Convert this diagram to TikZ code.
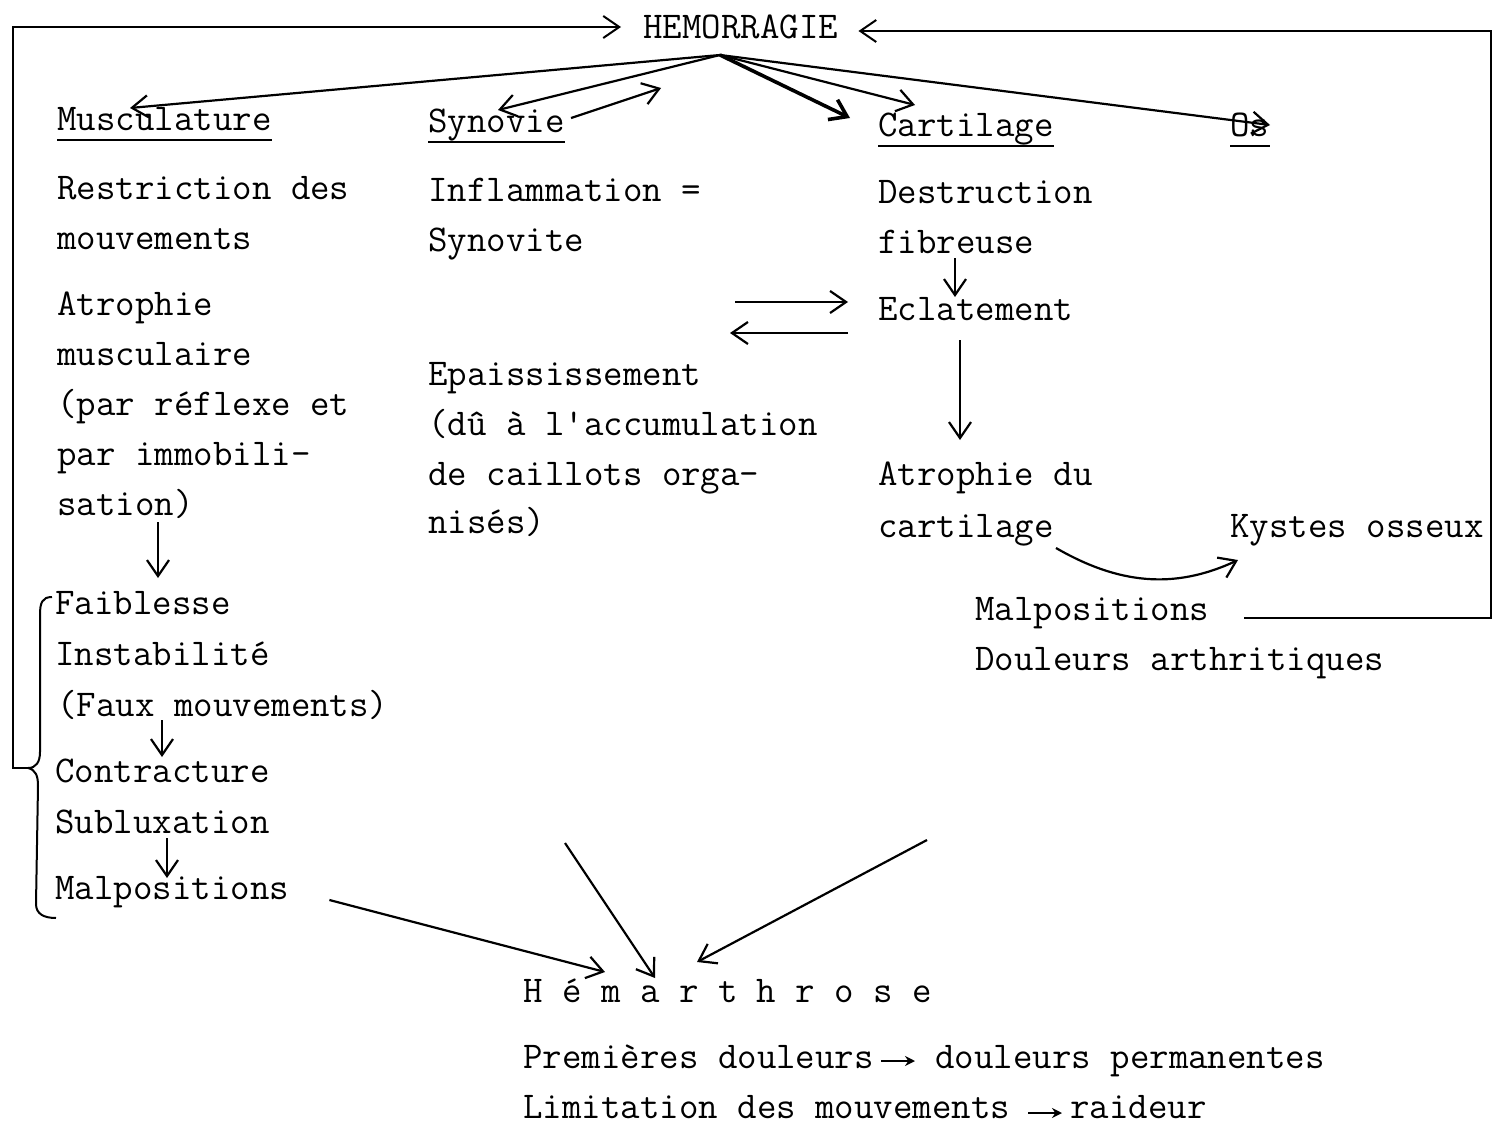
\documentclass[tikz,border=0pt]{standalone}
\usepackage{fontspec}
\usetikzlibrary{arrows.meta}

\tikzset{
	texte/.style={font=\ttfamily\fontsize{18.9pt}{25pt}\selectfont\addfontfeatures{FakeBold=1.2}, inner sep=0pt, anchor=base west},
	fleche/.style={line width=1.1pt, -{Straight Barb[length=8pt,width=11pt]}},
	grosse/.style={fleche, line width=1.8pt},
	cadre/.style={line width=1pt},
	petite/.style={line width=1pt, -{Stealth[length=5pt,width=5pt]}},
	souligne/.style={line width=1.2pt}
}

\begin{document}
\begin{tikzpicture}[x=0.5pt,y=-0.5pt]
		
		\useasboundingbox (0,0) rectangle (1499,1129);
		
		% Titles
		\node[texte] (hem) at (643,39) {HEMORRAGIE};
		\node[texte] (mus) at (57,131) {Musculature};
		\node[texte] (syn) at (428,133) {Synovie};
		\node[texte] (car) at (878,137) {Cartilage};
		\node[texte] (os) at (1230,137) {Os};
		\foreach \n in {mus,syn,car,os}
		\draw[souligne] ([yshift=-4.5pt]\n.base west) -- ([yshift=-4.5pt]\n.base east);
		
		% Musculature column
		\node[texte] (res1) at (57,199) {Restriction des};
		\node[texte] (res2) at (57,249) {mouvements};
		\node[texte] (atr1) at (57,315) {Atrophie};
		\node[texte] (atr2) at (57,365) {musculaire};
		\node[texte] (atr3) at (57,415) {(par réflexe et};
		\node[texte] (atr4) at (57,465) {par immobili-};
		\node[texte] (atr5) at (57,515) {sation)};
		\node[texte] (fai1) at (55,614) {Faiblesse};
		\node[texte] (fai2) at (55,665) {Instabilité};
		\node[texte] (fai3) at (57,716) {(Faux mouvements)};
		\node[texte] (con1) at (55,782) {Contracture};
		\node[texte] (con2) at (55,833) {Subluxation};
		\node[texte] (mal) at (55,899) {Malpositions};
		
		% Synovie column
		\node[texte] (inf1) at (428,201) {Inflammation =};
		\node[texte] (inf2) at (428,251) {Synovite};
		\node[texte] (epa1) at (428,385) {Epaississement};
		\node[texte] (epa2) at (428,435) {(dû à l'accumulation};
		\node[texte] (epa3) at (428,485) {de caillots orga-};
		\node[texte] (epa4) at (428,533) {nisés)};
		
		% Cartilage and Os columns
		\node[texte] (des1) at (878,203) {Destruction};
		\node[texte] (des2) at (878,253) {fibreuse};
		\node[texte] (ecl) at (878,320) {Eclatement};
		\node[texte] (atc1) at (878,485) {Atrophie du};
		\node[texte] (atc2) at (878,537) {cartilage};
		\node[texte] (kys) at (1230,537) {Kystes osseux};
		\node[texte] (mpo) at (975,620) {Malpositions};
		\node[texte] (dar) at (975,670) {Douleurs arthritiques};
		
		% Hemarthrose
		\node[texte] (hema) at (523,1002) {H é m a r t h r o s e};
		\node[texte] (pre) at (523,1068) {Premières douleurs};
		\node[texte] (per) at (935,1068) {douleurs permanentes};
		\node[texte] (lim) at (523,1118) {Limitation des mouvements};
		\node[texte] (rai) at (1070,1118) {raideur};
		
		% Arrows from HEMORRAGIE
		\coordinate (hemf) at ([shift={(77,16)}]hem.base west);
		\draw[fleche] (hemf) -- ([shift={(73,-23)}]mus.base west);
		\draw[fleche] (hemf) -- ([shift={(70,-23)}]syn.base west);
		\draw[fleche] ([shift={(6,-15)}]syn.base east) -- ([shift={(96,-45)}]syn.base east);
		\draw[grosse] (hemf) -- ([shift={(-28,-19)}]car.base west);
		\draw[fleche] (hemf) -- ([shift={(37,-32)}]car.base west);
		\draw[fleche] (hemf) -- ([shift={(40,-12)}]os.base west);
		
		% Brace and frame on the left
		\coordinate (cusp) at (28,768);
		\draw[cadre] (52,597) .. controls (42,597) and (40,603) .. (40,615) -- (40,752)
		.. controls (40,762) and (36,768) .. (cusp)
		.. controls (36,770) and (38,776) .. (38,786) -- (36,904)
		.. controls (36,914) and (44,918) .. (56,918);
		\draw[cadre,fleche,line width=1pt] (cusp) -- ++(-15,0) |- ([shift={(-22,-12)}]hem.base west);
		
		% Frame on the right
		\draw[cadre,fleche,line width=1pt] ([shift={(35,-2)}]mpo.base east) -- ++(247,0)
		|- ([shift={(20,-8)}]hem.base east);
		
		% Musculature chain
		\draw[fleche] ([shift={(101,7)}]atr5.base west) -- ([shift={(103,-36)}]fai1.base west);
		\draw[fleche] ([shift={(105,4)}]fai3.base west) -- ([shift={(107,-25)}]con1.base west);
		\draw[fleche] ([shift={(112,5)}]con2.base west) -- ([shift={(112,-21)}]mal.base west);
		
		% Synovie <-> Eclatement
		\draw[fleche] ([shift={(-143,-18)}]ecl.base west) -- ([shift={(-30,-18)}]ecl.base west);
		\draw[fleche] ([shift={(-30,13)}]ecl.base west) -- ([shift={(-148,13)}]ecl.base west);
		
		% Cartilage chain
		\draw[fleche] ([shift={(77,5)}]des2.base west) -- ([shift={(77,-23)}]ecl.base west);
		\draw[fleche] ([shift={(82,20)}]ecl.base west) -- ([shift={(82,-45)}]atc1.base west);
		\draw[fleche] ([shift={(2,11)}]atc2.base east) to[out=-30,in=205] ([shift={(8,23)}]kys.base west);
		
		% Arrows to Hemarthrose
		\draw[fleche] ([shift={(40,1)}]mal.base east) -- ([shift={(82,-30)}]hema.base west);
		\draw[fleche] ([shift={(137,310)}]epa4.base west) -- ([shift={(132,-24)}]hema.base west);
		\draw[fleche] ([shift={(-48,170)}]dar.base west) -- ([shift={(174,-40)}]hema.base west);
		
		% Inline arrows
		\draw[petite] ([shift={(7,-7)}]pre.base east) -- ([shift={(-20,-7)}]per.base west);
		\draw[petite] ([shift={(18,-5)}]lim.base east) -- ([shift={(-8,-5)}]rai.base west);
		
	\end{tikzpicture}
\end{document}
